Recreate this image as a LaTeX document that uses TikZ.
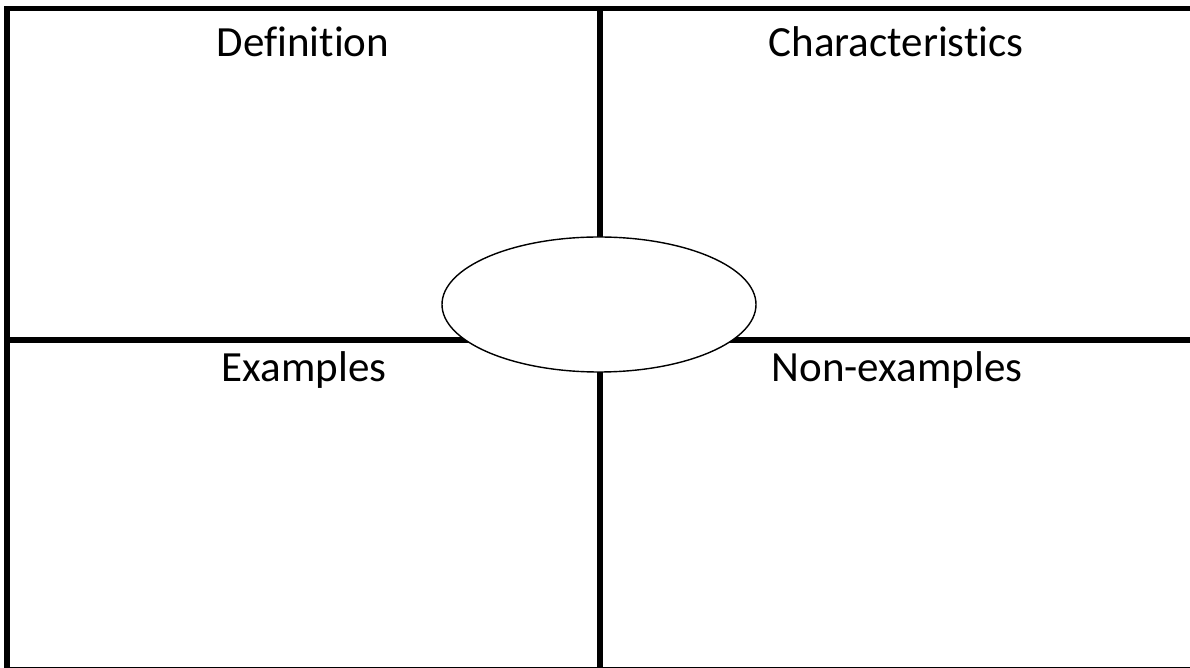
\documentclass[tikz,border=0pt]{standalone}
\usepackage{fontspec}
\setmainfont{Carlito}[Ligatures=NoCommon]
\usetikzlibrary{shapes.geometric}

\begin{document}
\begin{tikzpicture}[x=0.02cm,y=-0.02cm,
    heading/.style={anchor=base,font=\fontsize{24.5}{28}\selectfont},
    gridline/.style={line width=3.4pt},
    thinline/.style={line width=0.8pt},
    centreoval/.style={ellipse,draw,thin,fill=white,minimum width=314*0.02cm,minimum height=135*0.02cm}]
  \useasboundingbox (0,0) rectangle (1190,668);
  % frame and cross
  \draw[gridline] (7,668) -- (7,8.5) -- (1190,8.5);
  \draw[thinline] (4,667.5) -- (1190,667.5);
  \draw[gridline] (7,340) -- (1190,340);
  \draw[gridline] (600,8.5) -- (600,668);
  % centre
  \node[centreoval,line width=0.8pt] (centre) at (599,304.5) {};
  % headings
  \node[heading] (definition) at (303,57) {Definition};
  \node[heading] (characteristics) at (896,57) {Characteristics};
  \node[heading] (examples) at (304,382) {Examples};
  \node[heading] (nonexamples) at (897,382) {Non-examples};
\end{tikzpicture}
\end{document}
